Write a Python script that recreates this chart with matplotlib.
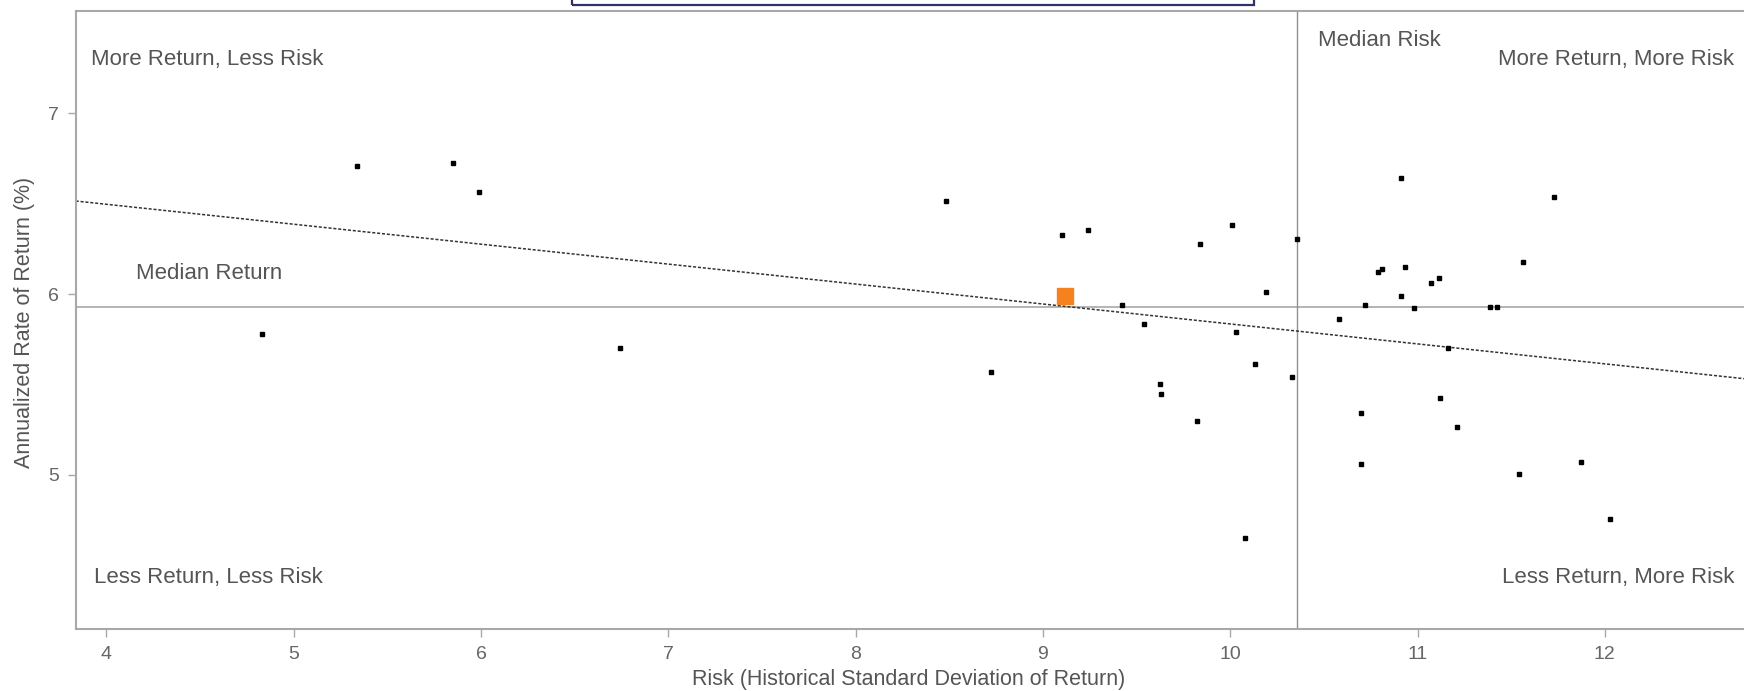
import numpy as np
import matplotlib
matplotlib.use("Agg")
import matplotlib.pyplot as plt
from matplotlib.patches import Rectangle

plt.rcParams['font.family'] = ['Liberation Sans', 'DejaVu Sans']

# fund risk / return
risk = [4.83, 5.34, 5.85, 5.99, 6.74, 8.48, 8.725, 9.10, 9.24, 9.42, 9.54,
        9.625, 9.63, 9.82, 9.84, 10.01, 10.033, 10.079, 10.131, 10.191, 10.332,
        10.358, 10.579, 10.698, 10.698, 10.72, 10.789, 10.812, 10.91, 10.91,
        10.932, 10.98, 11.071, 11.113, 11.12, 11.161, 11.209, 11.385, 11.423,
        11.542, 11.562, 11.731, 11.871, 12.026]
ret = [5.779, 6.71, 6.727, 6.565, 5.70, 6.513, 5.567, 6.325, 6.354, 5.941, 5.833,
       5.504, 5.449, 5.30, 6.276, 6.384, 5.792, 4.651, 5.612, 6.01, 5.54,
       6.304, 5.861, 5.341, 5.061, 5.941, 6.122, 6.138, 6.644, 5.991,
       6.15, 5.921, 6.061, 6.091, 5.424, 5.70, 5.264, 5.93, 5.93,
       5.003, 6.177, 6.535, 5.073, 4.754]

# highlighted fund
hl_risk = 9.12
hl_ret = 5.991

# trend line
fit_intercept = 6.938
fit_slope = -0.1103

x_ticks = [4, 5, 6, 7, 8, 9, 10, 11, 12]
y_ticks = [5, 6, 7]

all_risk = np.array(risk + [hl_risk])
all_ret = np.array(ret + [hl_ret])
med_risk = np.median(all_risk)
med_ret = np.median(all_ret)

fig = plt.figure(figsize=(17.44, 6.91), dpi=100)
ax = fig.add_axes([0.0434, 0.0897, 0.9566, 0.8937])

xlo, xhi = 3.836, 12.743
ax.set_xlim(xlo, xhi)
ax.set_ylim(4.148, 7.563)

grey = '#a8a8a8'
txt = '#555555'

ax.axhline(med_ret, color=grey, lw=1.2, zorder=1)
ax.axvline(med_risk, color='#909090', lw=1.0, zorder=1)

xs = np.array([xlo, xhi])
ax.plot(xs, fit_intercept + fit_slope * xs, color='#333333', lw=1.1,
        linestyle=(0, (2, 1.2)), zorder=2)

ax.plot(risk, ret, 's', color='black', markersize=2.8, zorder=3)
ax.plot([hl_risk], [hl_ret], 's', color='#F5821F', markersize=11, zorder=4)

ax.set_xticks(x_ticks)
ax.set_yticks(y_ticks)
ax.tick_params(axis='both', colors=grey, labelcolor='#666666', labelsize=14,
               length=6, width=1, pad=6)

for side in ['top', 'bottom', 'left']:
    ax.spines[side].set_color(grey)
    ax.spines[side].set_linewidth(1.5)
ax.spines['right'].set_visible(False)

ax.set_xlabel('Risk (Historical Standard Deviation of Return)', fontsize=15.5, color=txt)
ax.xaxis.set_label_coords(0.499, -0.081)
ax.xaxis.label.set_va('center')
ax.set_ylabel('Annualized Rate of Return (%)', fontsize=15.5, color=txt)
ax.yaxis.set_label_coords(-0.0304, 0.497)
ax.yaxis.label.set_va('center')

fs = 16
ax.text(0.009, 0.923, 'More Return, Less Risk', transform=ax.transAxes,
        ha='left', va='center', fontsize=fs, color=txt)
ax.text(0.0361, 0.576, 'Median Return', transform=ax.transAxes,
        ha='left', va='center', fontsize=fs, color=txt)
ax.text(0.0108, 0.083, 'Less Return, Less Risk', transform=ax.transAxes,
        ha='left', va='center', fontsize=fs, color=txt)
ax.text(0.7447, 0.953, 'Median Risk', transform=ax.transAxes,
        ha='left', va='center', fontsize=fs, color=txt)
ax.text(0.994, 0.923, 'More Return, More Risk', transform=ax.transAxes,
        ha='right', va='center', fontsize=fs, color=txt)
ax.text(0.994, 0.083, 'Less Return, More Risk', transform=ax.transAxes,
        ha='right', va='center', fontsize=fs, color=txt)

# navy box cut off at the top edge
fig.patches.append(Rectangle((0.328, 0.9928), 0.391, 0.05, transform=fig.transFigure,
                             fill=False, edgecolor='#2e3266', lw=1.6, clip_on=False))

fig.savefig('out.png', dpi=100)
